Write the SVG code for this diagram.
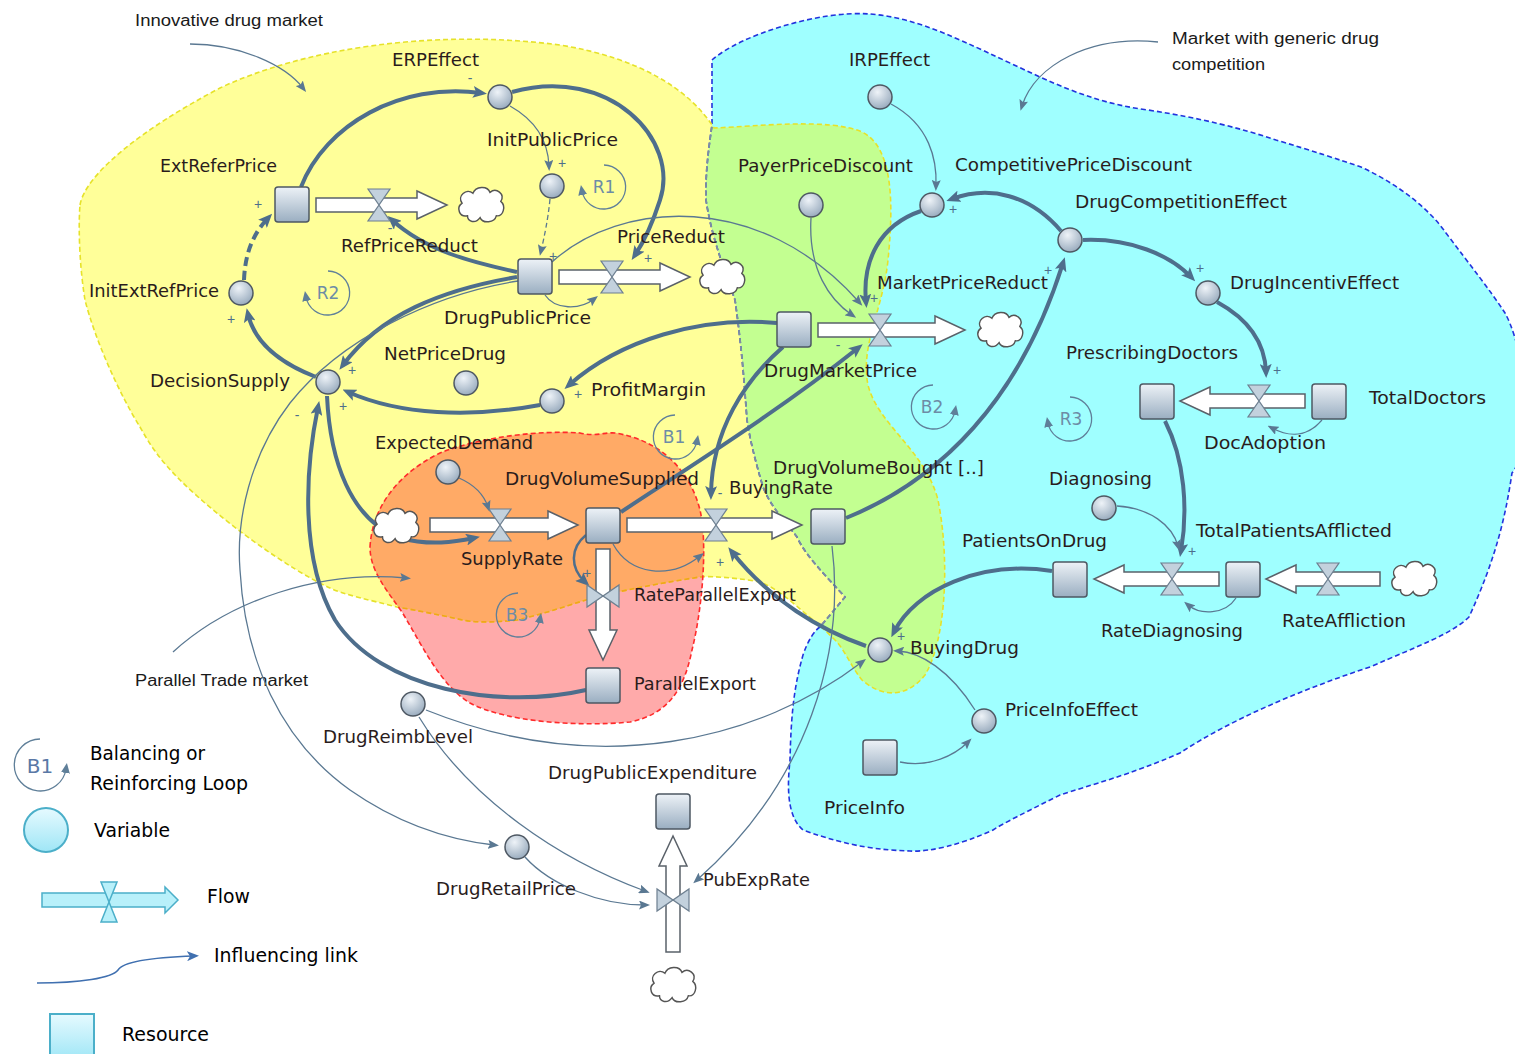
<svg xmlns="http://www.w3.org/2000/svg" xmlns:xlink="http://www.w3.org/1999/xlink" width="1515" height="1054" viewBox="0 0 1515 1054">
<style>
.lbl{font-family:"DejaVu Sans",sans-serif;font-size:17px;fill:#2a1c1c}
.ann{font-family:"Liberation Sans",Arial,sans-serif;font-size:16px;fill:#1a1a1a}
.leg{font-family:"DejaVu Sans",sans-serif;font-size:19px;fill:#000}
.sgn{font-family:"Liberation Sans",sans-serif;font-size:14px;fill:#4E6E8C;text-anchor:middle}
.lt{font-family:"DejaVu Sans",sans-serif;font-size:17px;fill:#6D8CA6;text-anchor:middle}
.stock{fill:url(#gS);stroke:#4E5863;stroke-width:1.5}
.var{fill:url(#gV);stroke:#4E5863;stroke-width:1.5}
.pipe{fill:#fff;stroke:#5A6169;stroke-width:1.5}
.valve{fill:#C3D1DD;stroke:#6D7F90;stroke-width:1.2}
.cloud{fill:#fff;stroke:#555;stroke-width:1.6}
.thick{fill:none;stroke:#4E6E8C;stroke-width:4;marker-end:url(#ah)}
.med{fill:none;stroke:#4E6E8C;stroke-width:2.5;marker-end:url(#ah)}
.thin{fill:none;stroke:#5A7892;stroke-width:1.3;marker-end:url(#at)}
.loop{fill:none;stroke:#5F7F99;stroke-width:1.3;marker-end:url(#al)}
</style>
<defs>
<linearGradient id="gS" x1="0" y1="0" x2="0" y2="1"><stop offset="0" stop-color="#EDF2F7"/><stop offset="1" stop-color="#9AAEC1"/></linearGradient>
<radialGradient id="gV" cx="0.4" cy="0.3" r="0.8"><stop offset="0" stop-color="#EEF3F8"/><stop offset="1" stop-color="#8FA3B7"/></radialGradient>
<linearGradient id="gL" x1="0" y1="0" x2="0" y2="1"><stop offset="0" stop-color="#E6FAFF"/><stop offset="1" stop-color="#9FE6F6"/></linearGradient>
<marker id="ah" viewBox="0 0 14 12" refX="8" refY="6" markerWidth="14" markerHeight="12" markerUnits="userSpaceOnUse" orient="auto"><path d="M0,0 L14,6 L0,12 L3,6 Z" fill="#4E6E8C"/></marker>
<marker id="at" viewBox="0 0 11 9" refX="6" refY="4.5" markerWidth="11" markerHeight="9" markerUnits="userSpaceOnUse" orient="auto"><path d="M0,0 L11,4.5 L0,9 L2,4.5 Z" fill="#5A7892"/></marker>
<marker id="al" viewBox="0 0 10 9" refX="4" refY="4.5" markerWidth="10" markerHeight="9" markerUnits="userSpaceOnUse" orient="auto"><path d="M0,0 L10,4.5 L0,9 Z" fill="#5F7F99"/></marker>
<marker id="ab" viewBox="0 0 12 10" refX="7" refY="5" markerWidth="12" markerHeight="10" markerUnits="userSpaceOnUse" orient="auto"><path d="M0,0 L12,5 L0,10 L3,5 Z" fill="#4070B0"/></marker>
<path id="cloudP" d="M -15,12 C -24,14 -28,3 -21,-2 C -27,-10 -16,-19 -9,-13 C -6,-21 7,-22 10,-14 C 17,-20 27,-12 22,-4 C 28,1 25,13 17,12 C 15,20 2,21 -1,14 C -6,21 -15,19 -15,12 Z"/>
<path id="cyanP" d="M 712,60 C 740,35 820,10 870,14 C 920,18 960,40 1040,77 C 1080,95 1110,105 1148,110 C 1200,118 1240,128 1276,140 C 1310,150 1340,160 1361,167 C 1400,185 1430,210 1446,233 C 1470,265 1490,290 1505,313 C 1520,340 1530,400 1525,440 C 1520,460 1515,470 1512,473 C 1505,520 1495,560 1469,617 C 1450,635 1420,645 1370,667 C 1300,690 1230,720 1180,753 C 1130,775 1090,785 1060,795 C 1030,810 1000,825 993,830 C 960,845 930,852 910,851 C 880,850 850,847 803,830 C 785,815 788,780 790,760 C 791,720 793,690 803,655 C 808,640 815,630 820,627 L 845,597 C 825,575 805,555 797,537 C 780,515 770,505 763,487 C 755,460 750,440 747,420 C 744,380 742,350 735,300 C 725,270 712,240 706,200 C 705,170 710,140 712,125 Z"/>
<path id="yellowP" d="M 80,205 C 85,175 140,130 220,88 C 300,50 430,28 560,45 C 640,58 690,90 714,128 C 760,126 830,118 862,132 C 895,148 893,210 888,260 C 883,310 860,345 868,385 C 878,425 925,450 938,500 C 950,560 946,640 925,675 C 905,700 880,696 862,680 C 850,665 845,650 835,640 C 825,630 818,624 813,620 C 795,605 775,585 755,581 C 730,577 705,576 700,577 C 680,580 650,585 613,593 C 580,600 560,610 517,620 C 490,623 470,622 463,620 C 440,615 415,610 397,607 C 370,600 345,595 330,588 C 290,570 220,520 180,480 C 160,460 150,445 140,427 C 120,395 95,340 85,300 C 80,270 78,230 80,205 Z"/>
<path id="pinkP" d="M 370,547 C 372,510 395,475 440,453 C 480,437 540,430 580,433 C 595,437 605,432 615,433 C 660,440 690,470 700,510 C 708,545 702,610 692,650 C 684,690 668,714 630,722 C 580,727 505,722 470,703 C 440,685 422,645 402,612 C 385,588 370,570 370,547 Z"/>
<clipPath id="cCyan"><use xlink:href="#cyanP"/></clipPath>
<clipPath id="cYellow"><use xlink:href="#yellowP"/></clipPath>
<clipPath id="cPink"><use xlink:href="#pinkP"/></clipPath>
</defs>

<g id="regions">
<use xlink:href="#cyanP" fill="#9FFFFF"/>
<use xlink:href="#yellowP" fill="#FFFF99"/>
<use xlink:href="#yellowP" fill="#C3FF91" clip-path="url(#cCyan)"/>
<use xlink:href="#pinkP" fill="#FFAAAA"/>
<use xlink:href="#pinkP" fill="#FFAA66" clip-path="url(#cYellow)"/>
<use xlink:href="#cyanP" fill="none" stroke="#2233DD" stroke-width="1.6" stroke-dasharray="5,3"/>
<g clip-path="url(#cYellow)"><use xlink:href="#cyanP" fill="none" stroke="#7E8FA0" stroke-width="1.8" stroke-dasharray="5,3"/></g>
<use xlink:href="#yellowP" fill="none" stroke="#E6E22A" stroke-width="1.6" stroke-dasharray="5,3"/>
<g clip-path="url(#cPink)"><use xlink:href="#yellowP" fill="none" stroke="#F2A21E" stroke-width="1.6" stroke-dasharray="5,3"/></g>
<use xlink:href="#pinkP" fill="none" stroke="#FF2A2A" stroke-width="1.6" stroke-dasharray="5,3"/>
</g>

<g id="annotations">
<text class="ann" x="135" y="26" textLength="188" lengthAdjust="spacingAndGlyphs">Innovative drug market</text>
<text class="ann" x="1172" y="44" textLength="207" lengthAdjust="spacingAndGlyphs">Market with generic drug</text>
<text class="ann" x="1172" y="70" textLength="93" lengthAdjust="spacingAndGlyphs">competition</text>
<text class="ann" x="135" y="686" textLength="173" lengthAdjust="spacingAndGlyphs">Parallel Trade market</text>
<path class="thin" d="M 190,44 C 240,44 285,65 303,88"/>
<path class="thin" d="M 1158,42 C 1090,35 1035,65 1022,106"/>
<path class="thin" d="M 173,652 C 230,600 320,570 406,578"/>
</g>

<g id="connectors">
<path class="thick" d="M 301,187 C 325,125 400,82 481,93"/>
<path class="thick" d="M 512,92 C 610,65 680,140 660,200 C 652,225 645,240 635,255"/>
<path class="thick" d="M 517,272 C 470,262 425,250 392,220"/>
<path class="thick" d="M 517,277 C 440,290 380,315 343,365"/>
<path class="thick" d="M 540,405 C 470,418 400,415 348,392"/>
<path class="thick" d="M 777,323 C 700,316 620,340 569,385"/>
<path class="thick" d="M 316,377 C 285,365 255,345 248,314"/>
<path class="thick" d="M 244,280 C 245,255 252,235 268,218" stroke-dasharray="9,5"/>
<path class="thick" d="M 327,396 C 330,460 350,520 400,538 C 430,546 455,542 474,538"/>
<path class="thick" d="M 586,690 C 500,710 380,690 335,620 C 300,560 305,470 318,407"/>
<path class="thick" d="M 621,512 C 700,460 780,410 858,348"/>
<path class="thick" d="M 783,347 C 745,380 712,430 711,494"/>
<path class="thick" d="M 846,518 C 940,480 1020,400 1063,263"/>
<path class="thick" d="M 1061,231 C 1030,195 990,185 952,199"/>
<path class="thick" d="M 921,211 C 880,225 862,260 866,302"/>
<path class="thick" d="M 1083,240 C 1130,238 1170,255 1191,277"/>
<path class="thick" d="M 1217,302 C 1250,320 1265,345 1266,372"/>
<path class="thick" d="M 1165,421 C 1185,460 1188,510 1181,551"/>
<path class="thick" d="M 1052,571 C 980,560 915,590 894,632"/>
<path class="thick" d="M 866,646 C 820,630 770,600 732,552"/>
<path class="med" d="M 586,535 C 570,548 570,568 585,582"/>
<path class="thin" d="M 510,106 C 535,120 548,140 549,166"/>
<path class="thin" d="M 550,199 C 548,220 544,238 541,251" stroke-dasharray="5,3"/>
<path class="thin" d="M 545,295 C 555,310 580,310 594,299"/>
<path class="thin" d="M 552,262 C 620,200 760,190 859,302"/>
<path class="thin" d="M 811,218 C 808,270 830,300 852,315"/>
<path class="thin" d="M 891,104 C 930,125 937,160 936,186"/>
<path class="thin" d="M 459,478 C 475,485 484,495 488,507"/>
<path class="thin" d="M 613,544 C 630,575 670,580 700,556"/>
<path class="thin" d="M 832,546 C 845,650 810,780 697,880"/>
<path class="thin" d="M 426,710 C 600,780 760,740 862,662"/>
<path class="thin" d="M 419,717 C 470,800 560,860 645,891"/>
<path class="thin" d="M 525,857 C 550,885 600,905 645,905"/>
<path class="thin" d="M 518,281 C 430,295 340,340 290,403 C 250,455 236,520 240,570 C 245,660 280,740 350,790 C 400,825 450,840 494,845"/>
<path class="thin" d="M 900,762 C 930,768 955,755 968,742"/>
<path class="thin" d="M 975,710 C 950,670 920,652 898,651"/>
<path class="thin" d="M 1117,506 C 1150,508 1172,525 1178,546"/>
<path class="thin" d="M 1322,420 C 1305,440 1285,435 1272,428"/>
<path class="thin" d="M 1236,598 C 1225,615 1200,615 1188,605"/>
</g>

<g id="signs">
<text class="sgn" x="258" y="209">+</text>
<text class="sgn" x="231" y="324">+</text>
<text class="sgn" x="470" y="83">-</text>
<text class="sgn" x="562" y="168">+</text>
<text class="sgn" x="553" y="261">+</text>
<text class="sgn" x="648" y="263">+</text>
<text class="sgn" x="352" y="375">+</text>
<text class="sgn" x="343" y="411">+</text>
<text class="sgn" x="297" y="420">-</text>
<text class="sgn" x="578" y="399">+</text>
<text class="sgn" x="461" y="528">+</text>
<text class="sgn" x="587" y="578">+</text>
<text class="sgn" x="720" y="498">-</text>
<text class="sgn" x="720" y="567">+</text>
<text class="sgn" x="838" y="350">-</text>
<text class="sgn" x="874" y="303">+</text>
<text class="sgn" x="953" y="214">+</text>
<text class="sgn" x="1048" y="275">+</text>
<text class="sgn" x="1200" y="273">+</text>
<text class="sgn" x="1277" y="375">+</text>
<text class="sgn" x="1192" y="556">+</text>
<text class="sgn" x="901" y="641">+</text>
<text class="sgn" x="390" y="233">-</text>
</g>

<g id="loops">
<g id="loopR1"><path class="loop" d="M 604,165 A 22,22 0 1 1 582,191"/><text class="lt" x="604" y="193">R1</text></g>
<g id="loopR2"><path class="loop" d="M 328,271 A 22,22 0 1 1 306,297"/><text class="lt" x="328" y="299">R2</text></g>
<g id="loopB1"><path class="loop" d="M 675,415 A 22,22 0 1 0 697,441"/><text class="lt" x="674" y="443">B1</text></g>
<g id="loopB2"><path class="loop" d="M 933,385 A 22,22 0 1 0 955,411"/><text class="lt" x="932" y="413">B2</text></g>
<g id="loopR3"><path class="loop" d="M 1070,397 A 22,22 0 1 1 1048,423"/><text class="lt" x="1071" y="425">R3</text></g>
<g id="loopB3"><path class="loop" d="M 518,593 A 22,22 0 1 0 540,619"/><text class="lt" x="517" y="621">B3</text></g>
</g>

<g id="node-ExtReferPrice"><rect class="stock" x="275" y="187" width="34" height="35" rx="3"/><text class="lbl" x="160" y="172" textLength="117" lengthAdjust="spacingAndGlyphs">ExtReferPrice</text></g>
<g id="node-DrugPublicPrice"><rect class="stock" x="518" y="259" width="34" height="35" rx="3"/><text class="lbl" x="444" y="324" textLength="147" lengthAdjust="spacingAndGlyphs">DrugPublicPrice</text></g>
<g id="node-DrugMarketPrice"><rect class="stock" x="777" y="312" width="34" height="35" rx="3"/><text class="lbl" x="764" y="377" textLength="153" lengthAdjust="spacingAndGlyphs">DrugMarketPrice</text></g>
<g id="node-DrugVolumeSupplied"><rect class="stock" x="586" y="508" width="34" height="35" rx="3"/><text class="lbl" x="505" y="485" textLength="194" lengthAdjust="spacingAndGlyphs">DrugVolumeSupplied</text></g>
<g id="node-DrugVolumeBought"><rect class="stock" x="811" y="509" width="34" height="35" rx="3"/><text class="lbl" x="773" y="474" textLength="211" lengthAdjust="spacingAndGlyphs">DrugVolumeBought [..]</text></g>
<g id="node-ParallelExport"><rect class="stock" x="586" y="668" width="34" height="35" rx="3"/><text class="lbl" x="634" y="690" textLength="122" lengthAdjust="spacingAndGlyphs">ParallelExport</text></g>
<g id="node-PrescribingDoctors"><rect class="stock" x="1140" y="384" width="34" height="35" rx="3"/><text class="lbl" x="1066" y="359" textLength="172" lengthAdjust="spacingAndGlyphs">PrescribingDoctors</text></g>
<g id="node-TotalDoctors"><rect class="stock" x="1312" y="384" width="34" height="35" rx="3"/><text class="lbl" x="1369" y="404" textLength="117" lengthAdjust="spacingAndGlyphs">TotalDoctors</text></g>
<g id="node-TotalPatientsAfflicted"><rect class="stock" x="1226" y="562" width="34" height="35" rx="3"/><text class="lbl" x="1196" y="537" textLength="196" lengthAdjust="spacingAndGlyphs">TotalPatientsAfflicted</text></g>
<g id="node-PatientsOnDrug"><rect class="stock" x="1053" y="562" width="34" height="35" rx="3"/><text class="lbl" x="962" y="547" textLength="145" lengthAdjust="spacingAndGlyphs">PatientsOnDrug</text></g>
<g id="node-PriceInfo"><rect class="stock" x="863" y="740" width="34" height="35" rx="3"/><text class="lbl" x="824" y="814" textLength="81" lengthAdjust="spacingAndGlyphs">PriceInfo</text></g>
<g id="node-DrugPublicExpenditure"><rect class="stock" x="656" y="794" width="34" height="35" rx="3"/><text class="lbl" x="548" y="779" textLength="209" lengthAdjust="spacingAndGlyphs">DrugPublicExpenditure</text></g>

<g id="node-ERPEffect"><circle class="var" cx="500" cy="97" r="12"/><text class="lbl" x="392" y="66" textLength="87" lengthAdjust="spacingAndGlyphs">ERPEffect</text></g>
<g id="node-InitPublicPrice"><circle class="var" cx="552" cy="186" r="12"/><text class="lbl" x="487" y="146" textLength="131" lengthAdjust="spacingAndGlyphs">InitPublicPrice</text></g>
<g id="node-InitExtRefPrice"><circle class="var" cx="241" cy="293" r="12"/><text class="lbl" x="89" y="297" textLength="130" lengthAdjust="spacingAndGlyphs">InitExtRefPrice</text></g>
<g id="node-DecisionSupply"><circle class="var" cx="328" cy="382" r="12"/><text class="lbl" x="150" y="387" textLength="140" lengthAdjust="spacingAndGlyphs">DecisionSupply</text></g>
<g id="node-NetPriceDrug"><circle class="var" cx="466" cy="383" r="12"/><text class="lbl" x="384" y="360" textLength="122" lengthAdjust="spacingAndGlyphs">NetPriceDrug</text></g>
<g id="node-ProfitMargin"><circle class="var" cx="552" cy="401" r="12"/><text class="lbl" x="591" y="396" textLength="115" lengthAdjust="spacingAndGlyphs">ProfitMargin</text></g>
<g id="node-ExpectedDemand"><circle class="var" cx="448" cy="472" r="12"/><text class="lbl" x="375" y="449" textLength="158" lengthAdjust="spacingAndGlyphs">ExpectedDemand</text></g>
<g id="node-IRPEffect"><circle class="var" cx="880" cy="97" r="12"/><text class="lbl" x="849" y="66" textLength="81" lengthAdjust="spacingAndGlyphs">IRPEffect</text></g>
<g id="node-PayerPriceDiscount"><circle class="var" cx="811" cy="205" r="12"/><text class="lbl" x="738" y="172" textLength="175" lengthAdjust="spacingAndGlyphs">PayerPriceDiscount</text></g>
<g id="node-CompetitivePriceDiscount"><circle class="var" cx="932" cy="205" r="12"/><text class="lbl" x="955" y="171" textLength="237" lengthAdjust="spacingAndGlyphs">CompetitivePriceDiscount</text></g>
<g id="node-DrugCompetitionEffect"><circle class="var" cx="1070" cy="240" r="12"/><text class="lbl" x="1075" y="208" textLength="212" lengthAdjust="spacingAndGlyphs">DrugCompetitionEffect</text></g>
<g id="node-DrugIncentivEffect"><circle class="var" cx="1208" cy="293" r="12"/><text class="lbl" x="1230" y="289" textLength="169" lengthAdjust="spacingAndGlyphs">DrugIncentivEffect</text></g>
<g id="node-Diagnosing"><circle class="var" cx="1104" cy="508" r="12"/><text class="lbl" x="1049" y="485" textLength="103" lengthAdjust="spacingAndGlyphs">Diagnosing</text></g>
<g id="node-BuyingDrug"><circle class="var" cx="880" cy="650" r="12"/><text class="lbl" x="910" y="654" textLength="109" lengthAdjust="spacingAndGlyphs">BuyingDrug</text></g>
<g id="node-PriceInfoEffect"><circle class="var" cx="984" cy="721" r="12"/><text class="lbl" x="1005" y="716" textLength="133" lengthAdjust="spacingAndGlyphs">PriceInfoEffect</text></g>
<g id="node-DrugReimbLevel"><circle class="var" cx="413" cy="704" r="12"/><text class="lbl" x="323" y="743" textLength="150" lengthAdjust="spacingAndGlyphs">DrugReimbLevel</text></g>
<g id="node-DrugRetailPrice"><circle class="var" cx="517" cy="847" r="12"/><text class="lbl" x="436" y="895" textLength="140" lengthAdjust="spacingAndGlyphs">DrugRetailPrice</text></g>

<g id="flow-RefPriceReduct"><path class="pipe" d="M316,198 H417 V191 L447,205 L417,219 V212 H316 Z"/><path class="valve" d="M368,189 H390 L368,221 H390 Z"/><use xlink:href="#cloudP" class="cloud" transform="translate(481,205) scale(0.9)"/><text class="lbl" x="341" y="252" textLength="137" lengthAdjust="spacingAndGlyphs">RefPriceReduct</text></g>
<g id="flow-PriceReduct"><path class="pipe" d="M559,270 H660 V263 L690,277 L660,291 V284 H559 Z"/><path class="valve" d="M601,261 H623 L601,293 H623 Z"/><use xlink:href="#cloudP" class="cloud" transform="translate(722,277) scale(0.9)"/><text class="lbl" x="617" y="243" textLength="108" lengthAdjust="spacingAndGlyphs">PriceReduct</text></g>
<g id="flow-MarketPriceReduct"><path class="pipe" d="M818,323 H935 V316 L965,330 L935,344 V337 H818 Z"/><path class="valve" d="M869,314 H891 L869,346 H891 Z"/><use xlink:href="#cloudP" class="cloud" transform="translate(1000,330) scale(0.9)"/><text class="lbl" x="877" y="289" textLength="171" lengthAdjust="spacingAndGlyphs">MarketPriceReduct</text></g>
<g id="flow-SupplyRate"><use xlink:href="#cloudP" class="cloud" transform="translate(396,526) scale(0.9)"/><path class="pipe" d="M430,518 H548 V511 L578,525 L548,539 V532 H430 Z"/><path class="valve" d="M489,509 H511 L489,541 H511 Z"/><text class="lbl" x="461" y="565" textLength="102" lengthAdjust="spacingAndGlyphs">SupplyRate</text></g>
<g id="flow-BuyingRate"><path class="pipe" d="M627,518 H772 V511 L802,525 L772,539 V532 H627 Z"/><path class="valve" d="M705,509 H727 L705,541 H727 Z"/><text class="lbl" x="729" y="494" textLength="104" lengthAdjust="spacingAndGlyphs">BuyingRate</text></g>
<g id="flow-RateParallelExport"><path class="pipe" d="M596,549 V630 H589 L603,660 L617,630 H610 V549 Z"/><path class="valve" d="M587,585 V607 L619,585 V607 Z"/><text class="lbl" x="634" y="601" textLength="162" lengthAdjust="spacingAndGlyphs">RateParallelExport</text></g>
<g id="flow-DocAdoption"><path class="pipe" d="M1305,394 H1210 V387 L1180,401 L1210,415 V408 H1305 Z"/><path class="valve" d="M1248,385 H1270 L1248,417 H1270 Z"/><text class="lbl" x="1204" y="449" textLength="122" lengthAdjust="spacingAndGlyphs">DocAdoption</text></g>
<g id="flow-RateDiagnosing"><path class="pipe" d="M1219,572 H1124 V565 L1094,579 L1124,593 V586 H1219 Z"/><path class="valve" d="M1161,563 H1183 L1161,595 H1183 Z"/><text class="lbl" x="1101" y="637" textLength="142" lengthAdjust="spacingAndGlyphs">RateDiagnosing</text></g>
<g id="flow-RateAffliction"><use xlink:href="#cloudP" class="cloud" transform="translate(1414,579) scale(0.9)"/><path class="pipe" d="M1380,572 H1296 V565 L1266,579 L1296,593 V586 H1380 Z"/><path class="valve" d="M1317,563 H1339 L1317,595 H1339 Z"/><text class="lbl" x="1282" y="627" textLength="124" lengthAdjust="spacingAndGlyphs">RateAffliction</text></g>
<g id="flow-PubExpRate"><use xlink:href="#cloudP" class="cloud" transform="translate(673,985) scale(0.9)"/><path class="pipe" d="M666,952 V866 H659 L673,836 L687,866 H680 V952 Z"/><path class="valve" d="M657,889 V911 L689,889 V911 Z"/><text class="lbl" x="703" y="886" textLength="107" lengthAdjust="spacingAndGlyphs">PubExpRate</text></g>

<g id="legend">
<g id="legend-loop"><path class="loop" d="M 40,739 A 26,26 0 1 0 66,769"/><text class="lt" x="40" y="773" style="font-size:20px;fill:#5A78A6">B1</text><text class="leg" x="90" y="760" textLength="115" lengthAdjust="spacingAndGlyphs">Balancing or</text><text class="leg" x="90" y="790" textLength="158" lengthAdjust="spacingAndGlyphs">Reinforcing Loop</text></g>
<g id="legend-variable"><circle cx="46" cy="830" r="22" fill="url(#gL)" stroke="#4BAFC9" stroke-width="2"/><text class="leg" x="94" y="837" textLength="76" lengthAdjust="spacingAndGlyphs">Variable</text></g>
<g id="legend-flow"><path d="M42,893 H165 V887 L178,900 L165,913 V907 H42 Z" fill="#B8F0FA" stroke="#4BAFC9" stroke-width="1.5"/><path d="M101,882 H117 L101,922 H117 Z" fill="#B8F0FA" stroke="#4BAFC9" stroke-width="1.5"/><text class="leg" x="207" y="903" textLength="43" lengthAdjust="spacingAndGlyphs">Flow</text></g>
<g id="legend-link"><path d="M 37,983 C 80,983 112,978 118,970 C 124,960 165,957 194,956" fill="none" stroke="#4070B0" stroke-width="1.6" marker-end="url(#ab)"/><text class="leg" x="214" y="962" textLength="144" lengthAdjust="spacingAndGlyphs">Influencing link</text></g>
<g id="legend-resource"><rect x="50" y="1014" width="44" height="46" fill="url(#gL)" stroke="#4BAFC9" stroke-width="2"/><text class="leg" x="122" y="1041" textLength="87" lengthAdjust="spacingAndGlyphs">Resource</text></g>
</g>
</svg>
